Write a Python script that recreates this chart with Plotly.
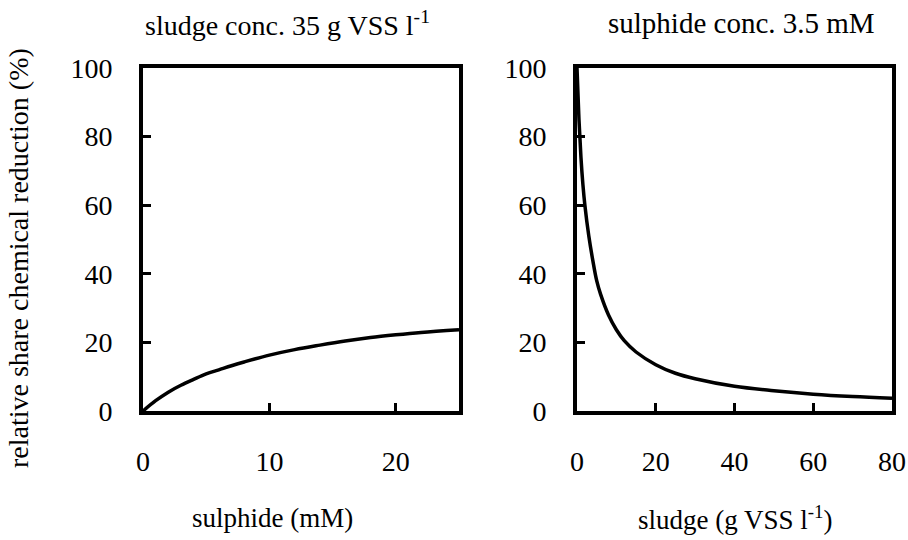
import plotly.graph_objects as go

# Left panel: sludge conc. 35 g VSS/l, varying sulphide (mM)
sulphide_mM = [0, 1, 2, 3, 4, 5, 6, 7, 8, 10, 12, 14, 16, 18, 20, 22, 25]
share_left = [0, 3.0, 5.5, 7.5, 9.2, 10.8, 12.0, 13.2, 14.3, 16.3, 17.9, 19.2, 20.4, 21.4, 22.2, 22.9, 23.7]

# Right panel: sulphide conc. 3.5 mM, varying sludge (g VSS/l)
sludge_g = [0, 0.5, 1, 1.5, 2, 3, 4, 5, 6, 8, 10, 12, 15, 20, 25, 30, 40, 50, 60, 70, 80]
share_right = [100, 85, 74, 66, 60, 51, 44, 38, 34, 28, 23.7, 20.5, 17.2, 13.5, 11.0, 9.4, 7.2, 5.9, 4.9, 4.2, 3.7]

left_xticks = [0, 10, 20]
right_xticks = [0, 20, 40, 60, 80]
yticks = [0, 20, 40, 60, 80, 100]

FONT = "Liberation Serif, Times New Roman, serif"

W, H = 908, 540


def fx(px):
    return px / W


def fy(py):
    return 1 - py / H


fig = go.Figure()
fig.add_trace(go.Scatter(x=sulphide_mM, y=share_left, mode="lines", line=dict(color="black", width=3.5, shape="spline"),
                         xaxis="x", yaxis="y", showlegend=False, hoverinfo="skip"))
fig.add_trace(go.Scatter(x=sludge_g, y=share_right, mode="lines", line=dict(color="black", width=3.5, shape="spline"),
                         xaxis="x2", yaxis="y2", showlegend=False, hoverinfo="skip"))

axis_common = dict(showline=True, linecolor="black", linewidth=4, mirror=True, ticks="inside",
                   ticklen=8, tickwidth=3, tickcolor="black", showgrid=False, zeroline=False,
                   automargin=False, tickfont=dict(family=FONT, size=28, color="black"))

fig.update_layout(
    template="none",
    width=W, height=H, margin=dict(l=0, r=0, t=0, b=0, pad=0, autoexpand=False),
    paper_bgcolor="white", plot_bgcolor="white", showlegend=False,
    xaxis=dict(domain=[fx(143), fx(459)], range=[0, 25], tickvals=left_xticks, anchor="y",
               ticklabelstandoff=22, **axis_common),
    yaxis=dict(domain=[fy(411), fy(68)], range=[0, 100], tickvals=yticks, anchor="x",
               ticklabelstandoff=21, **axis_common),
    xaxis2=dict(domain=[fx(577), fx(892)], range=[0, 80], tickvals=right_xticks, anchor="y2",
                ticklabelstandoff=22, **axis_common),
    yaxis2=dict(domain=[fy(411), fy(68)], range=[0, 100], tickvals=yticks, anchor="x2",
                ticklabelstandoff=21, **axis_common),
    font=dict(family=FONT, color="black"),
    annotations=[
        dict(text="sludge conc. 35 g VSS l<sup>-1</sup>", x=fx(287), y=fy(23), xref="paper", yref="paper",
             showarrow=False, font=dict(size=28), xanchor="center", yanchor="middle"),
        dict(text="sulphide conc. 3.5 mM", x=fx(741), y=fy(23), xref="paper", yref="paper",
             showarrow=False, font=dict(size=29), xanchor="center", yanchor="middle"),
        dict(text="sulphide (mM)", x=fx(272), y=fy(518), xref="paper", yref="paper",
             showarrow=False, font=dict(size=27), xanchor="center", yanchor="middle"),
        dict(text="sludge (g VSS l<sup>-1</sup>)", x=fx(735), y=fy(518), xref="paper", yref="paper",
             showarrow=False, font=dict(size=27), xanchor="center", yanchor="middle"),
        dict(text="relative share chemical reduction (%)", x=fx(18), y=fy(258), xref="paper", yref="paper",
             showarrow=False, font=dict(size=28), textangle=-90, xanchor="center", yanchor="middle"),
    ],
)

# remove the default 8px page margin so the figure fills the window exactly
fig.write_html("out.html", config={"displayModeBar": False, "staticPlot": True},
               post_script="document.body.style.margin='0';document.body.style.overflow='hidden';")
